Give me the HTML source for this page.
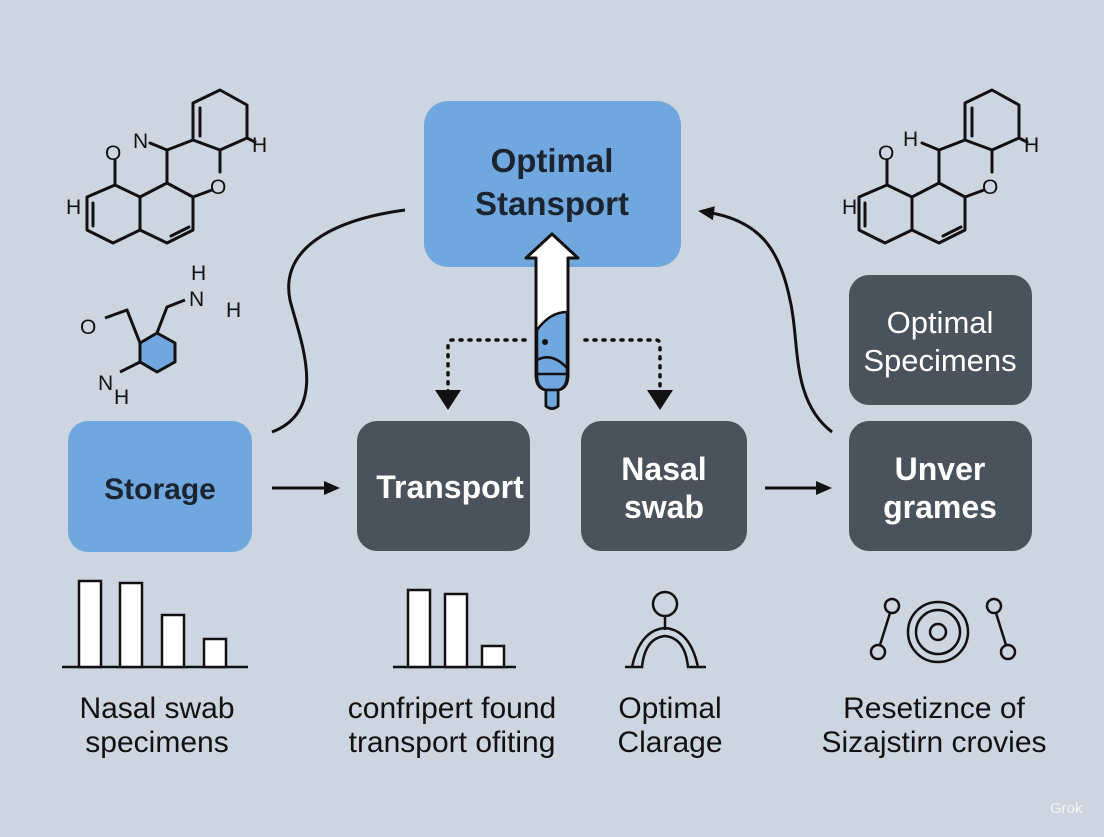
<!DOCTYPE html>
<html><head><meta charset="utf-8"><style>
body{margin:0;width:1104px;height:832px;overflow:hidden;background:#cdd6e0;font-family:"Liberation Sans",sans-serif}
</style></head><body>
<svg width="1104" height="832" xmlns="http://www.w3.org/2000/svg" font-family="Liberation Sans, sans-serif">
<rect width="1104" height="832" fill="#cdd6e0"/>
<defs>
<marker id="ah" markerWidth="16" markerHeight="16" refX="8" refY="8" orient="auto" markerUnits="userSpaceOnUse"><path d="M0,1 L16,8 L0,15 Z" fill="#111"/></marker>
<g id="mol" stroke="#111" stroke-width="3" fill="none" stroke-linejoin="round" stroke-linecap="round">
<path d="M115,185 L87,197 L87,230 L113,243 L140,230 L140,197 Z"/>
<path d="M93,203 L93,226"/>
<path d="M115,185 L115,160"/>
<path d="M140,197 L167,183 L193,197 L193,230 L167,243 L140,230"/>
<path d="M171,236 L189,227"/>
<path d="M167,183 L167,150 L150,143"/>
<path d="M167,150 L193,140 L193,103 L220,90 L247,105 L247,138 L220,150 L193,140"/>
<path d="M200,108 L200,136"/>
<path d="M220,150 L220,172 M212,190 L193,197"/>
<path d="M247,138 L255,142"/>
</g>
</defs>
<!-- boxes -->
<rect x="424" y="101" width="257" height="166" rx="24" fill="#6fa7de"/>
<text x="552" y="172" font-size="33" font-weight="bold" text-anchor="middle" fill="#1c2430">Optimal</text>
<text x="552" y="215" font-size="33" font-weight="bold" text-anchor="middle" fill="#1c2430">Stansport</text>
<rect x="68" y="421" width="184" height="131" rx="20" fill="#6fa7de"/>
<text x="160" y="499" font-size="30" font-weight="bold" text-anchor="middle" fill="#1c2430">Storage</text>
<rect x="357" y="421" width="173" height="130" rx="20" fill="#4a525c"/>
<text x="450" y="498" font-size="32" font-weight="bold" text-anchor="middle" fill="#fff">Transport</text>
<rect x="581" y="421" width="166" height="130" rx="20" fill="#4a525c"/>
<text x="664" y="480" font-size="32" font-weight="bold" text-anchor="middle" fill="#fff">Nasal</text>
<text x="664" y="518" font-size="32" font-weight="bold" text-anchor="middle" fill="#fff">swab</text>
<rect x="849" y="421" width="183" height="130" rx="20" fill="#4a525c"/>
<text x="940" y="480" font-size="32" font-weight="bold" text-anchor="middle" fill="#fff">Unver</text>
<text x="940" y="518" font-size="32" font-weight="bold" text-anchor="middle" fill="#fff">grames</text>
<rect x="849" y="275" width="183" height="130" rx="20" fill="#4a525c"/>
<text x="940" y="333" font-size="31" text-anchor="middle" fill="#fff">Optimal</text>
<text x="940" y="371" font-size="31" text-anchor="middle" fill="#fff">Specimens</text>
<!-- arrows -->
<g stroke="#111" stroke-width="3" fill="none">
<line x1="272" y1="488" x2="332" y2="488" marker-end="url(#ah)"/>
<line x1="765" y1="488" x2="824" y2="488" marker-end="url(#ah)"/>
<path d="M272,432 C330,410 300,340 290,300 C280,250 330,220 405,210"/>
<path d="M832,432 C790,400 800,340 790,300 C780,250 760,220 706,212" marker-end="url(#ah)"/>
<path d="M525,340 H452 Q448,340 448,345 V394" stroke-dasharray="2 7" stroke-linecap="round" stroke-width="3.5"/>
<path d="M585,340 H656 Q660,340 660,345 V394" stroke-dasharray="2 7" stroke-linecap="round" stroke-width="3.5"/>
</g>
<path d="M435,390 L461,390 L448,410 Z" fill="#111"/>
<path d="M647,390 L673,390 L660,410 Z" fill="#111"/>
<!-- tube -->
<path d="M552,234 L578,258 L568,258 L568,375 Q568,388 558,390 L558,406 Q552,411 546,406 L546,390 Q536,388 536,375 L536,258 L526,258 Z" fill="#fff" stroke="#111" stroke-width="3" stroke-linejoin="round"/>
<path d="M537,330 Q550,312 567,312 L567,375 Q567,388 558,390 L546,390 Q537,388 537,375 Z" fill="#6fa7de" stroke="#111" stroke-width="2.5"/>
<path d="M546,390 L558,390 L558,406 Q552,411 546,406 Z" fill="#6fa7de" stroke="#111" stroke-width="2.5"/>
<path d="M537,360 Q552,352 567,368" stroke="#111" stroke-width="2.5" fill="none"/>
<line x1="537" y1="374" x2="567" y2="374" stroke="#111" stroke-width="2.5"/>
<circle cx="545" cy="342" r="3" fill="#111"/>
<!-- molecules -->
<use href="#mol"/>
<use href="#mol" transform="translate(772,0)"/>
<g stroke="#111" stroke-width="3" fill="none" stroke-linejoin="round">
<path d="M140,343 L127,310 L105,318"/>
<path d="M157,333 L167,307 L185,300"/>
<path d="M140,362 L120,372"/>
</g>
<path d="M157,333 L175,343 L175,362 L157,372 L140,362 L140,343 Z" fill="#6fa7de" stroke="#111" stroke-width="3" stroke-linejoin="round"/>
<g font-size="21" fill="#111">
<text x="133" y="148">N</text><text x="105" y="160">O</text><text x="66" y="214">H</text>
<text x="252" y="152">H</text><text x="210" y="194">O</text>
<text x="80" y="334">O</text><text x="191" y="280">H</text><text x="189" y="306">N</text><text x="226" y="317">H</text>
<text x="98" y="390">N</text><text x="114" y="404">H</text>
<text x="878" y="160">O</text><text x="903" y="146">H</text><text x="842" y="214">H</text><text x="1024" y="152">H</text><text x="982" y="194">O</text>
</g>
<!-- bar charts -->
<g stroke="#111" stroke-width="2.5" fill="#fff">
<line x1="62" y1="667" x2="248" y2="667"/>
<rect x="79" y="581" width="22" height="86"/><rect x="120" y="583" width="22" height="84"/><rect x="162" y="615" width="22" height="52"/><rect x="204" y="639" width="22" height="28"/>
<line x1="393" y1="667" x2="516" y2="667"/>
<rect x="408" y="590" width="22" height="77"/><rect x="445" y="594" width="22" height="73"/><rect x="482" y="646" width="22" height="21"/>
</g>
<g stroke="#111" stroke-width="2.5" fill="none">
<circle cx="665" cy="604" r="12"/><line x1="665" y1="616" x2="665" y2="630"/>
<path d="M625,667 L642,667 Q645,638 665,636 Q685,638 688,667 L706,667 M632,667 Q640,630 665,628 Q690,630 698,667"/>
</g>
<g stroke="#111" stroke-width="2.5" fill="none">
<circle cx="938" cy="632" r="30"/><circle cx="938" cy="632" r="22"/><circle cx="938" cy="632" r="8"/>
<circle cx="892" cy="606" r="7"/><circle cx="878" cy="652" r="7"/><line x1="890" y1="613" x2="880" y2="645"/>
<circle cx="994" cy="606" r="7"/><circle cx="1008" cy="652" r="7"/><line x1="996" y1="613" x2="1006" y2="645"/>
</g>
<!-- labels -->
<g font-size="30" fill="#111" text-anchor="middle">
<text x="157" y="718">Nasal swab</text><text x="157" y="752">specimens</text>
<text x="452" y="718">confripert found</text><text x="452" y="752">transport ofiting</text>
<text x="670" y="718">Optimal</text><text x="670" y="752">Clarage</text>
<text x="934" y="718">Resetiznce of</text><text x="934" y="752">Sizajstirn crovies</text>
</g>
<text x="1050" y="813" font-size="15" fill="#f2f4f6">Grok</text>
</svg>
</body></html>
